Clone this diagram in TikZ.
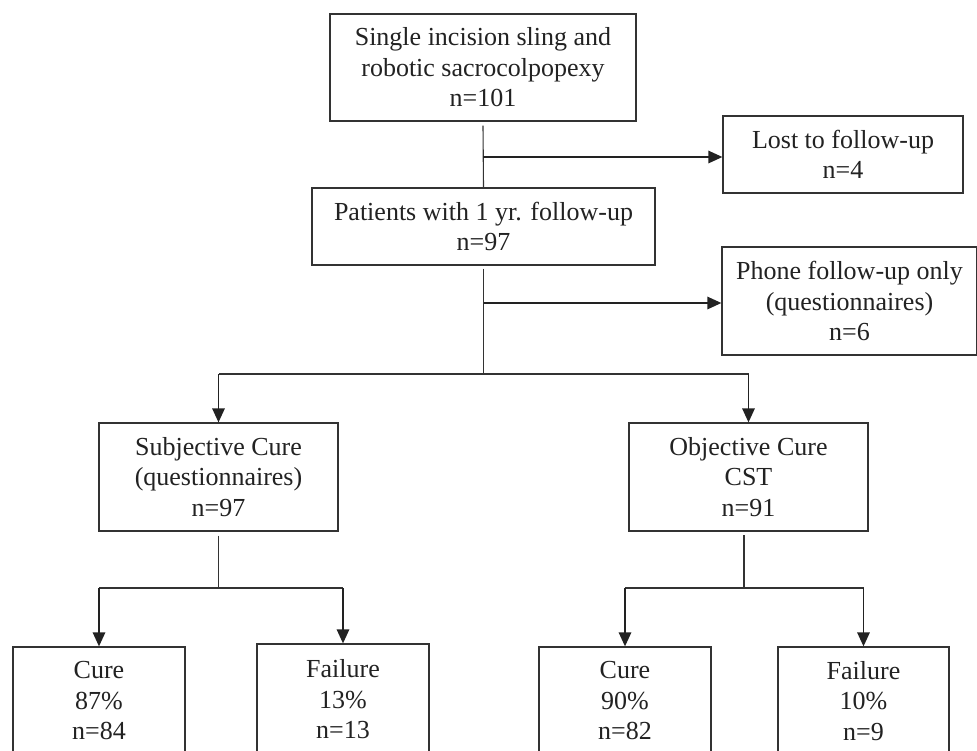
\documentclass[tikz,border=0pt]{standalone}
\usepackage{fontspec}
\setmainfont{Liberation Serif}
\usetikzlibrary{arrows.meta}
\definecolor{ink}{HTML}{222222}
\definecolor{edge}{HTML}{333333}
\tikzset{
  box/.style={draw=edge, line width=1.3pt, inner sep=0pt, align=center, text=ink,
    font=\fontsize{26}{30.5}\selectfont},
  link/.style={draw=edge, line width=1.1pt},
  arr/.style={draw=ink, line width=1.5pt, -{Triangle[length=14pt,width=12.5pt]}},
}
\begin{document}
\begin{tikzpicture}[x=1pt,y=-1pt]
\clip (0,0) rectangle (977,750);
\fill[white] (0,0) rectangle (977,750);

\node[box, minimum width=306pt, minimum height=107pt] (top) at (483,67.5)
  {Single incision sling and\\robotic sacrocolpopexy\\n=101};
\node[box, minimum width=240pt, minimum height=77pt] (lost) at (843,154.5)
  {Lost to follow-up\\n=4};
\node[box, minimum width=343pt, minimum height=77pt] (pat) at (483.5,226.5)
  {Patients with 1 yr. follow-up\\n=97};
\node[box, minimum width=255pt, minimum height=108pt] (phone) at (849.5,301)
  {Phone follow-up only\\(questionnaires)\\n=6};
\node[box, minimum width=239pt, minimum height=108pt] (subj) at (218.5,477)
  {Subjective Cure\\(questionnaires)\\n=97};
\node[box, minimum width=239pt, minimum height=108pt] (obj) at (748.5,477)
  {Objective Cure\\CST\\n=91};
\node[box, minimum width=172pt, minimum height=108pt] (c1) at (99,701)
  {Cure\\87\%\\n=84};
\node[box, minimum width=172pt, minimum height=111pt] (f1) at (343,699.5)
  {Failure\\13\%\\n=13};
\node[box, minimum width=172pt, minimum height=108pt] (c2) at (625,701)
  {Cure\\90\%\\n=82};
\node[box, minimum width=171pt, minimum height=108pt] (f2) at (863.5,701)
  {Failure\\10\%\\n=9};

% top -> patients, branch to lost
\coordinate (j1) at (483,157);
\draw[link] ([yshift=-4pt]top.south) -- (pat.north);
\draw[arr] (j1) -- (j1 -| lost.west);

% patients -> split, branch to phone
\coordinate (j2) at (483.5,303);
\coordinate (j3) at (483.5,374);
\draw[link] ([yshift=-3pt]pat.south) -- (j3);
\draw[arr] (j2) -- (j2 -| phone.west);
\draw[link, line width=1.5pt] (j3) -- (j3 -| subj.north);
\draw[link, line width=1.5pt] (j3) -- (j3 -| obj.north);
\draw[arr] (j3 -| subj.north) -- (subj.north);
\draw[arr] (j3 -| obj.north) -- (obj.north);

% subjective split
\coordinate (s1) at (218.5,588);
\draw[link] ([yshift=-4pt]subj.south) -- (s1);
\draw[link, line width=1.5pt] (s1 -| c1.north) -- (s1 -| f1.north);
\draw[arr] (s1 -| c1.north) -- (c1.north);
\draw[arr] (s1 -| f1.north) -- (f1.north);

% objective split
\coordinate (o1) at (744,588);
\draw[link] (744,535) -- (o1);
\draw[link, line width=1.5pt] (o1 -| c2.north) -- (o1 -| f2.north);
\draw[arr] (o1 -| c2.north) -- (c2.north);
\draw[arr] (o1 -| f2.north) -- (f2.north);
\end{tikzpicture}
\end{document}
